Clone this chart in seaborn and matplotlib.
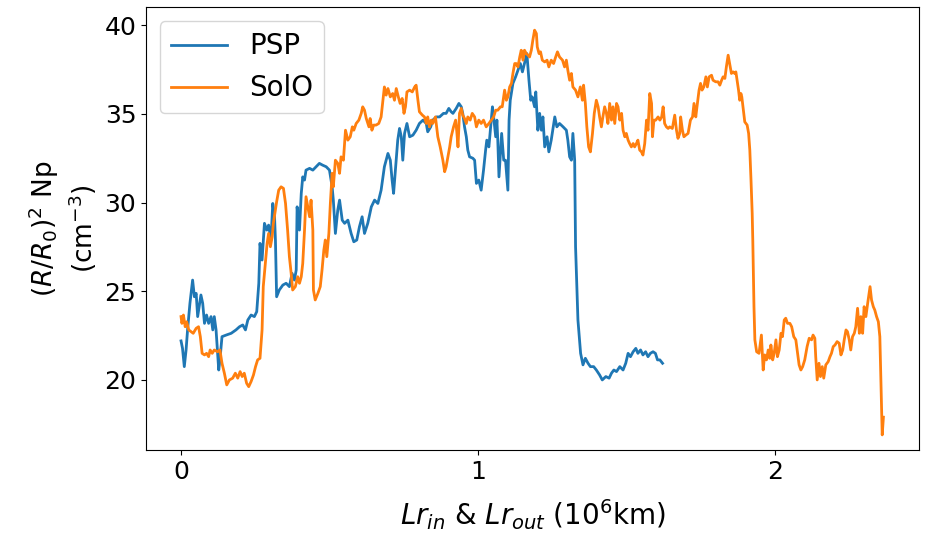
import matplotlib
matplotlib.use("Agg")
import matplotlib.pyplot as plt
import pandas as pd
import seaborn as sns

# Normalised proton density along the path, PSP (inbound) and SolO (outbound)
probes = ["PSP", "SolO"]
colors = ["#1f77b4", "#ff7f0e"]

psp_x = [0.000, 0.005, 0.011, 0.017, 0.022, 0.030, 0.039, 0.045, 0.051, 0.056,
         0.067, 0.073, 0.079, 0.086, 0.093, 0.101, 0.107, 0.112, 0.118, 0.127,
         0.131, 0.138, 0.152, 0.169, 0.185, 0.197, 0.208, 0.217, 0.225, 0.236,
         0.247, 0.255, 0.262, 0.266, 0.273, 0.281, 0.289, 0.295, 0.303, 0.309,
         0.315, 0.318, 0.322, 0.331, 0.343, 0.354, 0.365, 0.374, 0.382, 0.388,
         0.391, 0.399, 0.405, 0.410, 0.416, 0.421, 0.433, 0.444, 0.455, 0.466,
         0.477, 0.489, 0.500, 0.509, 0.513, 0.520, 0.528, 0.534, 0.543, 0.551,
         0.562, 0.573, 0.582, 0.592, 0.601, 0.610, 0.618, 0.629, 0.641, 0.652,
         0.663, 0.674, 0.685, 0.697, 0.705, 0.711, 0.716, 0.723, 0.730, 0.736,
         0.742, 0.747, 0.753, 0.761, 0.770, 0.781, 0.792, 0.803, 0.815, 0.826,
         0.831, 0.841, 0.848, 0.860, 0.871, 0.884, 0.893, 0.902, 0.910, 0.916,
         0.927, 0.936, 0.944, 0.949, 0.955, 0.961, 0.966, 0.972, 0.983, 0.989,
         0.995, 1.003, 1.011, 1.019, 1.026, 1.030, 1.037, 1.042, 1.049, 1.053,
         1.060, 1.064, 1.067, 1.071, 1.077, 1.080, 1.087, 1.093, 1.101, 1.105,
         1.109, 1.118, 1.127, 1.135, 1.143, 1.150, 1.157, 1.165, 1.172, 1.178,
         1.183, 1.191, 1.195, 1.202, 1.208, 1.214, 1.219, 1.225, 1.233, 1.239,
         1.247, 1.259, 1.266, 1.275, 1.287, 1.298, 1.303, 1.309, 1.315, 1.320,
         1.326, 1.329, 1.337, 1.346, 1.354, 1.362, 1.371, 1.379, 1.390, 1.399,
         1.410, 1.419, 1.431, 1.442, 1.450, 1.458, 1.467, 1.478, 1.489, 1.498,
         1.506, 1.514, 1.523, 1.532, 1.539, 1.548, 1.556, 1.565, 1.573, 1.581,
         1.590, 1.598, 1.605, 1.613, 1.622]
psp_y = [22.20, 21.78, 20.75, 21.69, 22.82, 24.32, 25.63, 24.69, 24.88, 23.57,
         24.79, 24.32, 23.19, 23.66, 23.19, 23.57, 22.82, 23.57, 22.82, 20.56,
         21.13, 22.44, 22.53, 22.63, 22.82, 23.00, 23.10, 22.82, 23.38, 23.66,
         23.57, 23.85, 25.45, 27.70, 26.76, 28.83, 28.45, 28.73, 27.89, 29.95,
         29.20, 27.89, 24.69, 25.07, 25.35, 25.45, 25.26, 26.01, 25.63, 26.20,
         29.76, 28.45, 30.52, 31.45, 31.27, 31.83, 31.93, 31.83, 32.02, 32.21,
         32.11, 32.02, 31.83, 30.89, 30.14, 28.26, 29.58, 30.14, 29.01, 28.83,
         29.01, 28.26, 27.79, 27.89, 28.64, 29.20, 28.26, 28.83, 29.76, 30.14,
         29.95, 30.70, 32.02, 32.77, 32.39, 31.27, 30.52, 32.02, 33.52, 34.18,
         33.71, 32.39, 33.90, 34.46, 33.71, 33.80, 34.08, 34.46, 34.65, 34.46,
         33.99, 34.27, 34.65, 34.83, 34.83, 35.03, 35.03, 35.31, 35.12, 35.03,
         35.31, 35.59, 35.40, 35.03, 34.27, 33.71, 32.96, 32.58, 32.50, 32.39,
         31.08, 31.27, 30.70, 31.83, 32.96, 33.52, 33.14, 34.08, 35.40, 34.83,
         33.71, 34.65, 33.52, 31.45, 33.14, 33.90, 32.39, 32.39, 30.70, 34.65,
         35.77, 36.72, 37.09, 37.46, 37.84, 37.37, 37.84, 38.40, 36.90, 35.77,
         35.96, 35.40, 36.24, 34.08, 35.03, 34.08, 34.83, 33.14, 33.71, 32.86,
         33.52, 34.83, 34.27, 34.46, 34.27, 34.08, 33.52, 32.58, 32.39, 33.90,
         32.39, 27.51, 23.38, 21.50, 20.85, 21.22, 20.94, 20.75, 20.75, 20.56,
         20.28, 20.00, 20.19, 20.10, 20.38, 20.56, 20.47, 20.75, 20.56, 20.94,
         21.50, 21.31, 21.59, 21.78, 21.50, 21.69, 21.41, 21.59, 21.31, 21.50,
         21.59, 21.50, 21.13, 21.13, 20.94]

solo_x = [0.000, 0.003, 0.008, 0.014, 0.019, 0.026, 0.034, 0.041, 0.051, 0.059,
          0.065, 0.071, 0.079, 0.086, 0.093, 0.098, 0.105, 0.112, 0.123, 0.131,
          0.138, 0.146, 0.154, 0.163, 0.174, 0.183, 0.191, 0.199, 0.206, 0.213,
          0.221, 0.228, 0.236, 0.244, 0.251, 0.258, 0.266, 0.273, 0.277, 0.284,
          0.290, 0.295, 0.301, 0.307, 0.311, 0.318, 0.322, 0.329, 0.337, 0.345,
          0.352, 0.359, 0.365, 0.371, 0.376, 0.385, 0.393, 0.399, 0.405, 0.410,
          0.416, 0.421, 0.427, 0.433, 0.438, 0.444, 0.446, 0.452, 0.461, 0.469,
          0.475, 0.481, 0.486, 0.491, 0.498, 0.503, 0.509, 0.513, 0.520, 0.528,
          0.534, 0.539, 0.547, 0.554, 0.562, 0.570, 0.577, 0.582, 0.590, 0.599,
          0.607, 0.612, 0.618, 0.624, 0.633, 0.637, 0.643, 0.649, 0.657, 0.666,
          0.674, 0.680, 0.685, 0.691, 0.697, 0.705, 0.713, 0.719, 0.725, 0.732,
          0.738, 0.745, 0.751, 0.756, 0.761, 0.770, 0.779, 0.787, 0.792, 0.798,
          0.803, 0.813, 0.820, 0.826, 0.831, 0.837, 0.843, 0.848, 0.857, 0.865,
          0.873, 0.882, 0.888, 0.893, 0.899, 0.905, 0.910, 0.918, 0.925, 0.929,
          0.933, 0.938, 0.944, 0.949, 0.955, 0.961, 0.966, 0.974, 0.981, 0.989,
          0.995, 1.003, 1.011, 1.019, 1.028, 1.037, 1.045, 1.053, 1.060, 1.067,
          1.076, 1.082, 1.090, 1.096, 1.101, 1.107, 1.113, 1.118, 1.124, 1.129,
          1.135, 1.141, 1.146, 1.152, 1.157, 1.163, 1.169, 1.174, 1.180, 1.185,
          1.191, 1.197, 1.200, 1.206, 1.211, 1.217, 1.225, 1.233, 1.239, 1.247,
          1.255, 1.262, 1.268, 1.275, 1.285, 1.292, 1.298, 1.303, 1.309, 1.315,
          1.320, 1.329, 1.337, 1.345, 1.352, 1.356, 1.362, 1.367, 1.373, 1.379,
          1.386, 1.392, 1.399, 1.405, 1.410, 1.416, 1.421, 1.427, 1.433, 1.438,
          1.444, 1.450, 1.455, 1.461, 1.467, 1.472, 1.478, 1.484, 1.489, 1.495,
          1.500, 1.506, 1.511, 1.517, 1.523, 1.528, 1.534, 1.539, 1.545, 1.551,
          1.556, 1.562, 1.568, 1.573, 1.579, 1.585, 1.588, 1.593, 1.599, 1.607,
          1.613, 1.619, 1.624, 1.629, 1.635, 1.641, 1.646, 1.655, 1.663, 1.669,
          1.674, 1.680, 1.683, 1.689, 1.694, 1.700, 1.708, 1.716, 1.723, 1.728,
          1.734, 1.738, 1.745, 1.750, 1.755, 1.761, 1.768, 1.773, 1.779, 1.787,
          1.792, 1.801, 1.809, 1.815, 1.821, 1.826, 1.832, 1.837, 1.843, 1.849,
          1.854, 1.860, 1.865, 1.869, 1.873, 1.878, 1.882, 1.886, 1.889, 1.893,
          1.899, 1.907, 1.912, 1.916, 1.920, 1.924, 1.926, 1.930, 1.933, 1.939,
          1.947, 1.955, 1.961, 1.966, 1.972, 1.978, 1.983, 1.987, 1.993, 1.998,
          2.004, 2.009, 2.015, 2.021, 2.026, 2.032, 2.037, 2.043, 2.051, 2.057,
          2.064, 2.071, 2.077, 2.082, 2.088, 2.094, 2.101, 2.109, 2.116, 2.124,
          2.129, 2.135, 2.138, 2.143, 2.149, 2.154, 2.160, 2.165, 2.172, 2.180,
          2.186, 2.191, 2.197, 2.203, 2.210, 2.217, 2.223, 2.229, 2.234, 2.240,
          2.245, 2.251, 2.256, 2.262, 2.268, 2.273, 2.279, 2.285, 2.290, 2.296,
          2.301, 2.307, 2.313, 2.321, 2.326, 2.332, 2.337, 2.343, 2.349, 2.354,
          2.357, 2.360, 2.362, 2.364, 2.366]
solo_y = [23.57, 23.19, 23.66, 23.00, 23.28, 22.82, 22.72, 22.63, 22.91, 23.00,
          22.44, 21.50, 21.41, 21.50, 21.31, 21.69, 21.50, 21.69, 21.59, 21.69,
          20.94, 20.38, 19.72, 20.00, 20.10, 20.38, 20.10, 20.47, 20.19, 20.38,
          19.81, 19.62, 19.91, 20.28, 20.75, 21.13, 21.22, 22.82, 25.26, 26.57,
          27.70, 28.26, 27.51, 28.07, 28.83, 29.58, 30.04, 30.70, 30.89, 30.80,
          29.95, 28.45, 26.95, 26.01, 25.07, 25.26, 25.82, 25.45, 25.82, 26.57,
          28.45, 30.33, 29.76, 29.20, 30.14, 28.45, 25.07, 24.51, 24.88, 25.26,
          26.20, 27.32, 27.89, 26.95, 28.26, 29.95, 31.65, 30.89, 32.39, 32.21,
          31.65, 32.58, 32.39, 34.08, 33.52, 33.71, 34.27, 34.08, 34.46, 34.65,
          35.03, 35.40, 35.21, 34.74, 34.27, 34.74, 34.08, 34.37, 34.37, 34.46,
          34.83, 35.77, 36.52, 36.06, 36.43, 35.96, 36.15, 35.77, 36.43, 35.96,
          35.59, 35.87, 35.03, 35.40, 36.24, 36.34, 36.24, 36.52, 36.62, 35.77,
          35.12, 34.93, 34.83, 34.46, 34.83, 34.27, 34.65, 34.46, 34.83, 33.71,
          33.14, 32.39, 31.74, 32.02, 32.58, 33.14, 33.71, 34.27, 34.65, 33.99,
          33.14, 35.03, 35.31, 34.93, 34.74, 34.46, 34.83, 34.65, 35.03, 34.83,
          34.27, 34.65, 34.46, 34.65, 34.27, 34.46, 34.65, 34.83, 35.21, 35.21,
          35.40, 35.40, 36.34, 35.77, 35.96, 36.52, 36.72, 37.28, 37.84, 37.84,
          37.65, 38.21, 38.59, 38.03, 38.59, 38.40, 38.31, 38.21, 38.59, 39.15,
          39.72, 39.53, 38.78, 38.40, 38.50, 38.03, 37.93, 38.03, 37.65, 38.03,
          37.84, 38.21, 38.50, 38.21, 38.03, 37.65, 38.03, 37.46, 36.90, 37.28,
          36.52, 36.34, 35.96, 36.52, 35.77, 36.62, 35.59, 34.27, 33.14, 32.86,
          33.90, 35.03, 35.77, 35.40, 34.83, 34.27, 34.83, 35.40, 35.03, 34.46,
          35.59, 34.65, 35.40, 34.46, 35.59, 35.40, 34.65, 35.03, 34.08, 33.71,
          33.90, 33.52, 33.33, 33.14, 33.33, 33.14, 33.33, 33.52, 32.96, 32.86,
          32.68, 33.33, 34.65, 34.08, 36.15, 35.59, 33.71, 34.65, 34.65, 34.83,
          34.65, 34.83, 35.40, 34.46, 34.27, 34.18, 34.27, 34.18, 34.93, 34.08,
          33.62, 33.90, 34.83, 34.08, 33.71, 33.80, 33.90, 34.65, 34.83, 35.59,
          34.83, 35.40, 36.34, 36.72, 36.34, 36.52, 37.09, 36.52, 37.09, 37.18,
          36.90, 36.81, 36.81, 36.62, 36.90, 37.09, 37.00, 37.65, 38.31, 37.75,
          37.28, 37.37, 37.28, 37.37, 36.90, 36.34, 35.77, 36.15, 35.96, 35.40,
          34.55, 34.37, 33.90, 32.96, 31.27, 29.39, 27.89, 24.13, 22.26, 21.59,
          21.50, 22.53, 20.56, 21.41, 21.13, 21.69, 21.22, 21.97, 21.13, 21.50,
          22.26, 21.31, 21.69, 22.63, 22.44, 23.38, 23.48, 23.19, 23.19, 23.00,
          22.44, 22.26, 21.50, 20.85, 20.56, 20.75, 21.13, 21.88, 22.35, 22.26,
          22.53, 22.35, 21.31, 20.00, 20.94, 20.19, 20.75, 20.10, 20.85, 21.03,
          21.31, 21.50, 21.88, 21.97, 22.16, 22.07, 21.41, 21.69, 22.26, 22.82,
          22.72, 22.26, 21.69, 22.44, 22.63, 23.00, 24.04, 22.63, 23.57, 22.63,
          24.13, 23.57, 24.32, 25.26, 24.51, 24.13, 23.94, 23.57, 23.28, 22.44,
          20.38, 18.50, 16.90, 17.40, 17.90]

x_ticks = [0, 1, 2]
y_ticks = [20, 25, 30, 35, 40]

df = pd.concat([
    pd.DataFrame({"L": psp_x, "Np": psp_y, "probe": probes[0]}),
    pd.DataFrame({"L": solo_x, "Np": solo_y, "probe": probes[1]}),
], ignore_index=True)

fig = plt.figure(figsize=(9.27, 5.35), dpi=100)
ax = fig.add_axes([0.1575, 0.1589, 0.8339, 0.8271])

sns.lineplot(data=df, x="L", y="Np", hue="probe", hue_order=probes,
             palette=colors, estimator=None, sort=False, linewidth=2.0, ax=ax)

ax.set_xlim(-0.118, 2.486)
ax.set_ylim(16.05, 41.0)
ax.set_xticks(x_ticks)
ax.set_yticks(y_ticks)
ax.tick_params(labelsize=18)

ax.set_xlabel(r"$Lr_{in}$ & $Lr_{out}$ (10$^6$km)", fontsize=20, labelpad=10)
ax.set_ylabel(r"$(R/R_0)^2$ Np" + "\n" + r"(cm$^{-3}$)", fontsize=19)

handles, labels = ax.get_legend_handles_labels()
ax.legend(handles, labels, loc="upper left", fontsize=20)

fig.savefig("out.png", dpi=100)
